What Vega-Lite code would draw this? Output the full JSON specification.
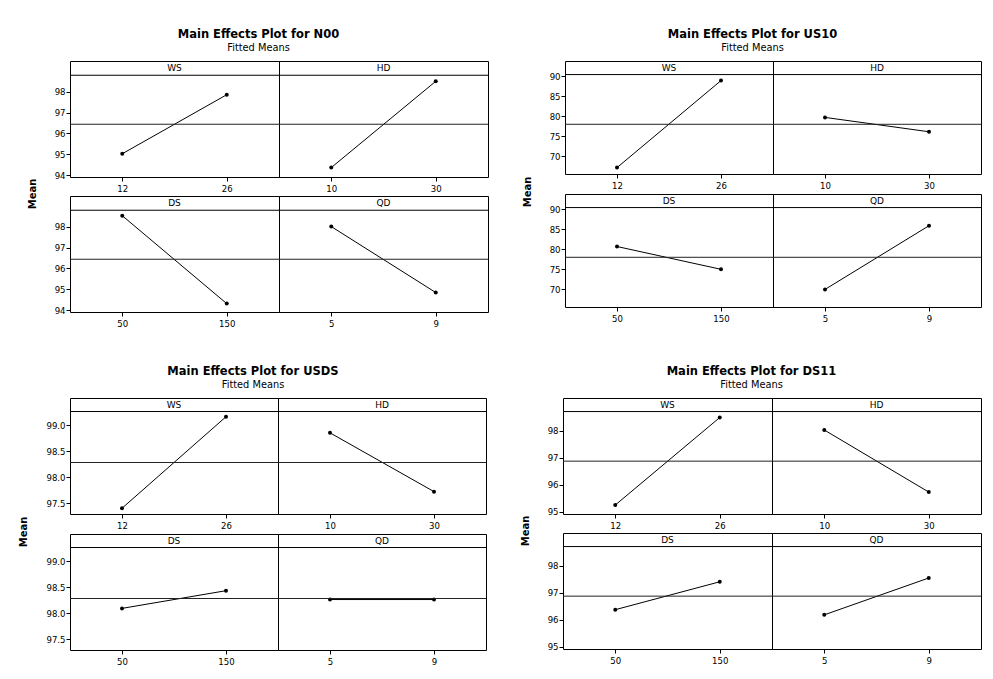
{
  "$schema": "https://vega.github.io/schema/vega-lite/v6.json",
  "background": "white",
  "padding": {"left": 19, "top": 29, "right": 2, "bottom": 2},
  "data": {"values": [
    {"chart": "N00", "factor": "WS", "r": 1, "c": 1, "lvl": "12", "ord": 1, "mean": 95.03},
    {"chart": "N00", "factor": "WS", "r": 1, "c": 1, "lvl": "26", "ord": 2, "mean": 97.85},
    {"chart": "N00", "factor": "HD", "r": 1, "c": 2, "lvl": "10", "ord": 1, "mean": 94.37},
    {"chart": "N00", "factor": "HD", "r": 1, "c": 2, "lvl": "30", "ord": 2, "mean": 98.49},
    {"chart": "N00", "factor": "DS", "r": 2, "c": 1, "lvl": "50", "ord": 1, "mean": 98.52},
    {"chart": "N00", "factor": "DS", "r": 2, "c": 1, "lvl": "150", "ord": 2, "mean": 94.32},
    {"chart": "N00", "factor": "QD", "r": 2, "c": 2, "lvl": "5", "ord": 1, "mean": 98.0},
    {"chart": "N00", "factor": "QD", "r": 2, "c": 2, "lvl": "9", "ord": 2, "mean": 94.85},
    {"chart": "US10", "factor": "WS", "r": 1, "c": 1, "lvl": "12", "ord": 1, "mean": 67.1},
    {"chart": "US10", "factor": "WS", "r": 1, "c": 1, "lvl": "26", "ord": 2, "mean": 88.9},
    {"chart": "US10", "factor": "HD", "r": 1, "c": 2, "lvl": "10", "ord": 1, "mean": 79.67},
    {"chart": "US10", "factor": "HD", "r": 1, "c": 2, "lvl": "30", "ord": 2, "mean": 76.08},
    {"chart": "US10", "factor": "DS", "r": 2, "c": 1, "lvl": "50", "ord": 1, "mean": 80.65},
    {"chart": "US10", "factor": "DS", "r": 2, "c": 1, "lvl": "150", "ord": 2, "mean": 74.94},
    {"chart": "US10", "factor": "QD", "r": 2, "c": 2, "lvl": "5", "ord": 1, "mean": 69.9},
    {"chart": "US10", "factor": "QD", "r": 2, "c": 2, "lvl": "9", "ord": 2, "mean": 85.86},
    {"chart": "USDS", "factor": "WS", "r": 1, "c": 1, "lvl": "12", "ord": 1, "mean": 97.4},
    {"chart": "USDS", "factor": "WS", "r": 1, "c": 1, "lvl": "26", "ord": 2, "mean": 99.16},
    {"chart": "USDS", "factor": "HD", "r": 1, "c": 2, "lvl": "10", "ord": 1, "mean": 98.85},
    {"chart": "USDS", "factor": "HD", "r": 1, "c": 2, "lvl": "30", "ord": 2, "mean": 97.72},
    {"chart": "USDS", "factor": "DS", "r": 2, "c": 1, "lvl": "50", "ord": 1, "mean": 98.09},
    {"chart": "USDS", "factor": "DS", "r": 2, "c": 1, "lvl": "150", "ord": 2, "mean": 98.43},
    {"chart": "USDS", "factor": "QD", "r": 2, "c": 2, "lvl": "5", "ord": 1, "mean": 98.26},
    {"chart": "USDS", "factor": "QD", "r": 2, "c": 2, "lvl": "9", "ord": 2, "mean": 98.26},
    {"chart": "DS11", "factor": "WS", "r": 1, "c": 1, "lvl": "12", "ord": 1, "mean": 95.25},
    {"chart": "DS11", "factor": "WS", "r": 1, "c": 1, "lvl": "26", "ord": 2, "mean": 98.48},
    {"chart": "DS11", "factor": "HD", "r": 1, "c": 2, "lvl": "10", "ord": 1, "mean": 98.02},
    {"chart": "DS11", "factor": "HD", "r": 1, "c": 2, "lvl": "30", "ord": 2, "mean": 95.73},
    {"chart": "DS11", "factor": "DS", "r": 2, "c": 1, "lvl": "50", "ord": 1, "mean": 96.37},
    {"chart": "DS11", "factor": "DS", "r": 2, "c": 1, "lvl": "150", "ord": 2, "mean": 97.4},
    {"chart": "DS11", "factor": "QD", "r": 2, "c": 2, "lvl": "5", "ord": 1, "mean": 96.18},
    {"chart": "DS11", "factor": "QD", "r": 2, "c": 2, "lvl": "9", "ord": 2, "mean": 97.54}
  ]},
  "spacing": 38,
  "vconcat": [
    {
      "spacing": 34,
      "hconcat": [
        {
          "title": {"text": "Main Effects Plot for N00", "subtitle": "Fitted Means"},
          "transform": [{"filter": "datum.chart === 'N00'"}],
          "facet": {
            "row": {"field": "r", "type": "ordinal", "title": "Mean", "header": {"labels": false, "labelPadding": 0, "titlePadding": 6}},
            "column": {"field": "c", "type": "ordinal", "header": null}
          },
          "spacing": {"row": 19, "column": 0},
          "bounds": "flush",
          "resolve": {"scale": {"x": "independent"}},
          "spec": {
            "width": 209, "height": 116,
            "layer": [
              {"mark": {"type": "line", "color": "black", "strokeWidth": 1, "point": {"filled": true, "size": 16, "color": "black", "opacity": 1}},
               "encoding": {"x": {"field": "lvl", "type": "ordinal", "sort": {"field": "ord", "op": "min"}, "scale": {"type": "point", "padding": 0.5}, "axis": {"title": null}},
                            "y": {"field": "mean", "type": "quantitative", "scale": {"domain": [93.92, 99.46], "nice": false, "zero": false}, "axis": {"values": [94, 95, 96, 97, 98], "tickCount": 5, "labelOverlap": false, "minExtent": 0, "title": null}}}},
              {"transform": [{"filter": "datum.ord === 1"}], "mark": {"type": "rule", "color": "#222222", "strokeWidth": 1},
               "encoding": {"y": {"datum": 96.44, "type": "quantitative"}}},
              {"transform": [{"filter": "datum.ord === 1"}], "mark": {"type": "rule", "color": "black", "strokeWidth": 1},
               "encoding": {"y": {"datum": 98.78, "type": "quantitative"}}},
              {"transform": [{"filter": "datum.ord === 1"}], "mark": {"type": "text", "fontSize": 9, "font": "DejaVu Sans", "baseline": "middle", "color": "black"},
               "encoding": {"y": {"datum": 99.12, "type": "quantitative"}, "text": {"field": "factor"}}}
            ]
          }
        },
        {
          "title": {"text": "Main Effects Plot for US10", "subtitle": "Fitted Means"},
          "transform": [{"filter": "datum.chart === 'US10'"}],
          "facet": {
            "row": {"field": "r", "type": "ordinal", "title": "Mean", "header": {"labels": false, "labelPadding": 0, "titlePadding": 6}},
            "column": {"field": "c", "type": "ordinal", "header": null}
          },
          "spacing": {"row": 20, "column": 0},
          "bounds": "flush",
          "resolve": {"scale": {"x": "independent"}},
          "spec": {
            "width": 208, "height": 113,
            "layer": [
              {"mark": {"type": "line", "color": "black", "strokeWidth": 1, "point": {"filled": true, "size": 16, "color": "black", "opacity": 1}},
               "encoding": {"x": {"field": "lvl", "type": "ordinal", "sort": {"field": "ord", "op": "min"}, "scale": {"type": "point", "padding": 0.5}, "axis": {"title": null}},
                            "y": {"field": "mean", "type": "quantitative", "scale": {"domain": [65.5, 93.8], "nice": false, "zero": false}, "axis": {"values": [70, 75, 80, 85, 90], "tickCount": 5, "labelOverlap": false, "minExtent": 0, "title": null}}}},
              {"transform": [{"filter": "datum.ord === 1"}], "mark": {"type": "rule", "color": "#222222", "strokeWidth": 1},
               "encoding": {"y": {"datum": 77.95, "type": "quantitative"}}},
              {"transform": [{"filter": "datum.ord === 1"}], "mark": {"type": "rule", "color": "black", "strokeWidth": 1},
               "encoding": {"y": {"datum": 90.4, "type": "quantitative"}}},
              {"transform": [{"filter": "datum.ord === 1"}], "mark": {"type": "text", "fontSize": 9, "font": "DejaVu Sans", "baseline": "middle", "color": "black"},
               "encoding": {"y": {"datum": 92.1, "type": "quantitative"}, "text": {"field": "factor"}}}
            ]
          }
        }
      ]
    },
    {
      "spacing": 34,
      "hconcat": [
        {
          "title": {"text": "Main Effects Plot for USDS", "subtitle": "Fitted Means"},
          "transform": [{"filter": "datum.chart === 'USDS'"}],
          "facet": {
            "row": {"field": "r", "type": "ordinal", "title": "Mean", "header": {"labels": false, "labelPadding": 0, "titlePadding": 6}},
            "column": {"field": "c", "type": "ordinal", "header": null}
          },
          "spacing": {"row": 20, "column": 0},
          "bounds": "flush",
          "resolve": {"scale": {"x": "independent"}},
          "spec": {
            "width": 208, "height": 116,
            "layer": [
              {"mark": {"type": "line", "color": "black", "strokeWidth": 1, "point": {"filled": true, "size": 16, "color": "black", "opacity": 1}},
               "encoding": {"x": {"field": "lvl", "type": "ordinal", "sort": {"field": "ord", "op": "min"}, "scale": {"type": "point", "padding": 0.5}, "axis": {"title": null}},
                            "y": {"field": "mean", "type": "quantitative", "scale": {"domain": [97.29, 99.52], "nice": false, "zero": false}, "axis": {"values": [97.5, 98.0, 98.5, 99.0], "tickCount": 4, "format": ".1f", "labelOverlap": false, "minExtent": 0, "title": null}}}},
              {"transform": [{"filter": "datum.ord === 1"}], "mark": {"type": "rule", "color": "#222222", "strokeWidth": 1},
               "encoding": {"y": {"datum": 98.28, "type": "quantitative"}}},
              {"transform": [{"filter": "datum.ord === 1"}], "mark": {"type": "rule", "color": "black", "strokeWidth": 1},
               "encoding": {"y": {"datum": 99.26, "type": "quantitative"}}},
              {"transform": [{"filter": "datum.ord === 1"}], "mark": {"type": "text", "fontSize": 9, "font": "DejaVu Sans", "baseline": "middle", "color": "black"},
               "encoding": {"y": {"datum": 99.39, "type": "quantitative"}, "text": {"field": "factor"}}}
            ]
          }
        },
        {
          "title": {"text": "Main Effects Plot for DS11", "subtitle": "Fitted Means"},
          "transform": [{"filter": "datum.chart === 'DS11'"}],
          "facet": {
            "row": {"field": "r", "type": "ordinal", "title": "Mean", "header": {"labels": false, "labelPadding": 0, "titlePadding": 6}},
            "column": {"field": "c", "type": "ordinal", "header": null}
          },
          "spacing": {"row": 19, "column": 0},
          "bounds": "flush",
          "resolve": {"scale": {"x": "independent"}},
          "spec": {
            "width": 209, "height": 116,
            "layer": [
              {"mark": {"type": "line", "color": "black", "strokeWidth": 1, "point": {"filled": true, "size": 16, "color": "black", "opacity": 1}},
               "encoding": {"x": {"field": "lvl", "type": "ordinal", "sort": {"field": "ord", "op": "min"}, "scale": {"type": "point", "padding": 0.5}, "axis": {"title": null}},
                            "y": {"field": "mean", "type": "quantitative", "scale": {"domain": [94.92, 99.2], "nice": false, "zero": false}, "axis": {"values": [95, 96, 97, 98], "tickCount": 4, "labelOverlap": false, "minExtent": 0, "title": null}}}},
              {"transform": [{"filter": "datum.ord === 1"}], "mark": {"type": "rule", "color": "#222222", "strokeWidth": 1},
               "encoding": {"y": {"datum": 96.87, "type": "quantitative"}}},
              {"transform": [{"filter": "datum.ord === 1"}], "mark": {"type": "rule", "color": "black", "strokeWidth": 1},
               "encoding": {"y": {"datum": 98.7, "type": "quantitative"}}},
              {"transform": [{"filter": "datum.ord === 1"}], "mark": {"type": "text", "fontSize": 9, "font": "DejaVu Sans", "baseline": "middle", "color": "black"},
               "encoding": {"y": {"datum": 98.95, "type": "quantitative"}, "text": {"field": "factor"}}}
            ]
          }
        }
      ]
    }
  ],
  "config": {
    "font": "DejaVu Sans",
    "view": {"stroke": "black", "strokeWidth": 1},
    "axis": {"domain": false, "grid": false, "ticks": true, "tickColor": "black", "tickSize": 4, "labelColor": "black", "labelFont": "DejaVu Sans Condensed", "labelFontSize": 9.5, "labelPadding": 1, "labelOverlap": false},
    "axisY": {"minExtent": 0},
    "axisX": {"labelAngle": 0, "labelPadding": 2},
    "header": {"titleFont": "DejaVu Sans", "titleFontSize": 10, "titleFontWeight": "bold", "titleColor": "black", "titlePadding": 6, "labelPadding": 0},
    "title": {"font": "DejaVu Sans", "fontSize": 11.5, "fontWeight": "bold", "color": "black", "subtitleFont": "DejaVu Sans", "subtitleFontSize": 9.8, "subtitleColor": "black", "subtitlePadding": 2, "anchor": "middle", "offset": 8}
  }
}
